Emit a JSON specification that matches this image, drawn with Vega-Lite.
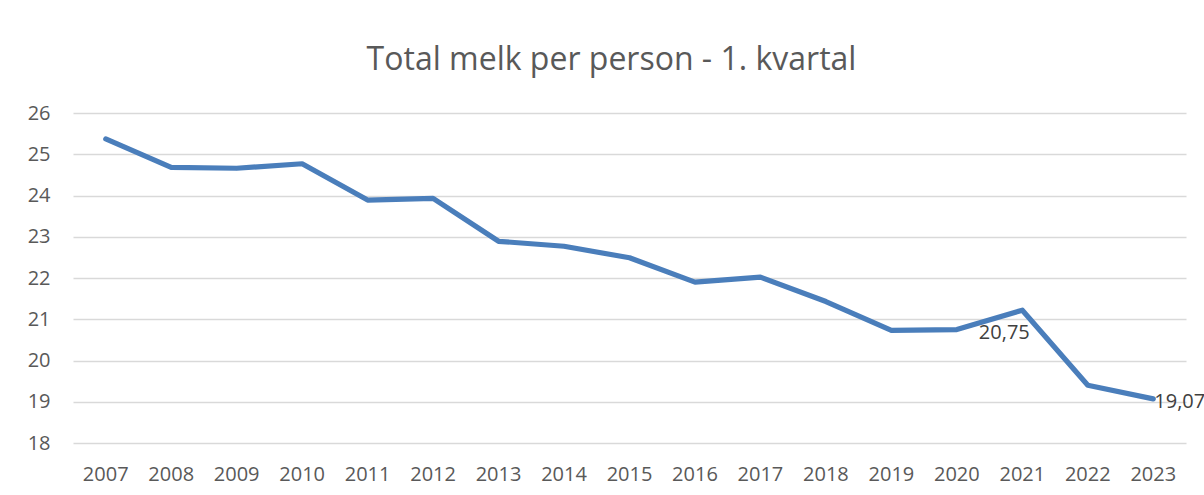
{
  "$schema": "https://vega.github.io/schema/vega-lite/v6.json",
  "autosize": "none",
  "width": 1113,
  "height": 330,
  "padding": {"left": 73, "top": 113, "right": 18, "bottom": 52},
  "background": "white",
  "title": {
    "text": "Total melk per person - 1. kvartal",
    "font": "Open Sans",
    "fontSize": 32,
    "fontWeight": "normal",
    "color": "#595959",
    "anchor": "middle",
    "dx": -18,
    "offset": 26
  },
  "config": {
    "view": {"stroke": null},
    "font": "Open Sans"
  },
  "data": {
    "values": [
      {"year": "2007", "value": 25.37},
      {"year": "2008", "value": 24.68},
      {"year": "2009", "value": 24.66},
      {"year": "2010", "value": 24.77},
      {"year": "2011", "value": 23.89},
      {"year": "2012", "value": 23.93},
      {"year": "2013", "value": 22.89},
      {"year": "2014", "value": 22.77},
      {"year": "2015", "value": 22.49},
      {"year": "2016", "value": 21.9},
      {"year": "2017", "value": 22.02},
      {"year": "2018", "value": 21.43},
      {"year": "2019", "value": 20.73},
      {"year": "2020", "value": 20.75, "label": "20,75"},
      {"year": "2021", "value": 21.22},
      {"year": "2022", "value": 19.4},
      {"year": "2023", "value": 19.07, "label": "19,07"}
    ]
  },
  "encoding": {
    "x": {
      "field": "year",
      "type": "ordinal",
      "scale": {"type": "band", "paddingInner": 0, "paddingOuter": 0},
      "axis": {
        "title": null,
        "labelAngle": 0,
        "domain": false,
        "ticks": false,
        "grid": false,
        "labelFont": "Open Sans",
        "labelFontSize": 20,
        "labelColor": "#595959",
        "labelPadding": 21
      }
    },
    "y": {
      "field": "value",
      "type": "quantitative",
      "scale": {"domain": [18, 26], "nice": false, "zero": false},
      "axis": {
        "title": null,
        "values": [18, 19, 20, 21, 22, 23, 24, 25, 26],
        "domain": false,
        "ticks": false,
        "grid": true,
        "gridColor": "#d9d9d9",
        "gridWidth": 1.4,
        "labelFont": "Open Sans",
        "labelFontSize": 20,
        "labelColor": "#595959",
        "labelPadding": 23
      }
    }
  },
  "layer": [
    {
      "mark": {"type": "line", "color": "#4a7ebb", "strokeWidth": 5.2, "strokeCap": "round", "strokeJoin": "round"}
    },
    {
      "transform": [{"filter": "datum.year == '2020'"}],
      "mark": {"type": "text", "align": "left", "baseline": "middle", "dx": 22, "dy": 3, "fontSize": 20, "font": "Open Sans", "color": "#404040"},
      "encoding": {"text": {"field": "label"}}
    },
    {
      "transform": [{"filter": "datum.year == '2023'"}],
      "mark": {"type": "text", "align": "left", "baseline": "middle", "dx": 1, "dy": 3, "fontSize": 20, "font": "Open Sans", "color": "#404040"},
      "encoding": {"text": {"field": "label"}}
    }
  ]
}
